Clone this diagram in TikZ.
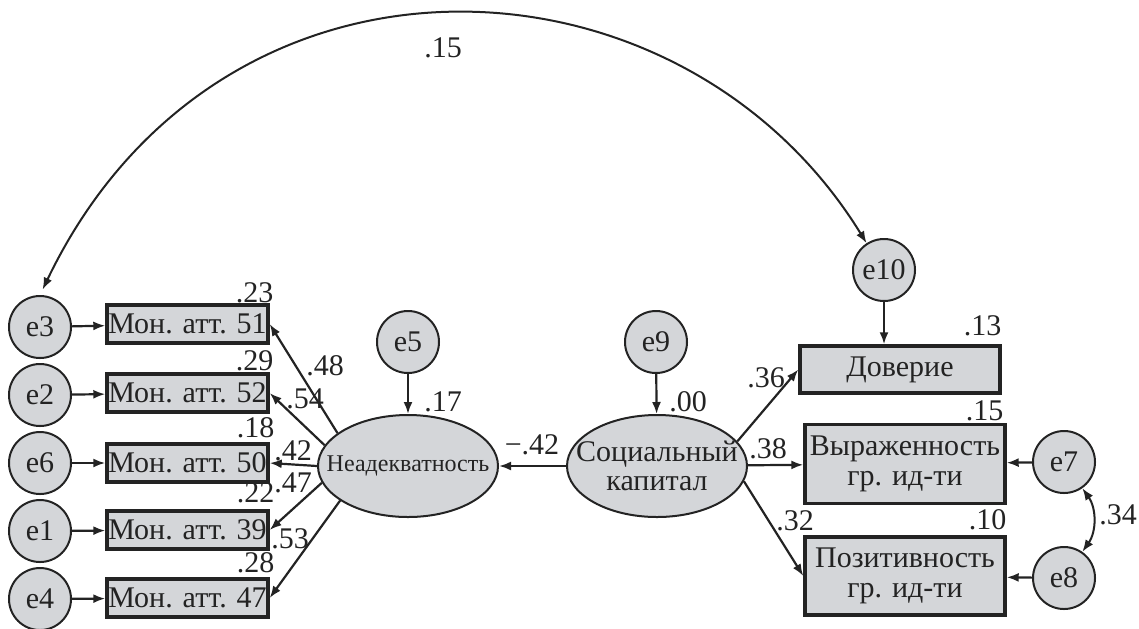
\documentclass[tikz,border=0pt]{standalone}
\usepackage{fontspec}
\setmainfont{Liberation Serif}
\usetikzlibrary{shapes.geometric,arrows.meta}
\definecolor{boxgray}{RGB}{212,214,217}
\definecolor{ink}{RGB}{35,35,35}
\tikzset{
  err/.style={circle,draw=ink,fill=boxgray,line width=1pt,minimum size=31pt,inner sep=0pt,text=ink,font=\fontsize{15}{16}\selectfont},
  obs/.style={rectangle,draw=ink,fill=boxgray,line width=1.7pt,inner sep=0pt,align=center,text=ink,font=\fontsize{15}{15}\selectfont},
  lat/.style={ellipse,draw=ink,fill=boxgray,line width=1pt,minimum width=90pt,minimum height=51pt,inner xsep=-9pt,inner ysep=0pt,align=center,text=ink},
  coef/.style={inner sep=0pt,text=ink,font=\fontsize{15}{16}\selectfont},
  arr/.style={-{Latex[length=6pt,width=4.5pt]},line width=1.1pt,draw=ink},
  arrtwo/.style={{Latex[length=6pt,width=4.5pt]}-{Latex[length=6pt,width=4.5pt]},line width=1pt,draw=ink}
}
\begin{document}
\begin{tikzpicture}[x=0.5pt,y=-0.5pt]
        \useasboundingbox (0,0) rectangle (1139,628);
        % left side
        \node[err](e3) at (40,327) {e3};
        \node[err](e2) at (40,395) {e2};
        \node[err](e6) at (40,463) {e6};
        \node[err](e1) at (40,531) {e1};
        \node[err](e4) at (40,599) {e4};
        \node[obs,minimum width=80.5pt,minimum height=19pt](m51) at (187.5,324) {Мон. атт. 51};
        \node[obs,minimum width=80.5pt,minimum height=19pt](m52) at (187.5,393) {Мон. атт. 52};
        \node[obs,minimum width=80.5pt,minimum height=19pt](m50) at (187.5,463) {Мон. атт. 50};
        \node[obs,minimum width=80.5pt,minimum height=19pt](m39) at (187.5,530) {Мон. атт. 39};
        \node[obs,minimum width=80.5pt,minimum height=19pt](m47) at (187.5,598) {Мон. атт. 47};
        % latent
        \node[err](e5) at (408,342) {e5};
        \node[err](e9) at (656,342) {e9};
        \node[lat,font=\fontsize{12}{13}\selectfont](nea) at (408,466) {Неадекватность};
        \node[lat,font=\fontsize{15}{14.5}\selectfont](soc) at (657,466) {Социальный\\капитал};
        % right side
        \node[err](e10) at (884,270) {e10};
        \node[err](e7) at (1064,462) {e7};
        \node[err](e8) at (1064,578) {e8};
        \node[obs,minimum width=100pt,minimum height=23.5pt](dov) at (900,369.5) {Доверие};
        \node[obs,minimum width=100pt,minimum height=39.5pt](vyr) at (905,464) {Выраженность\\гр. ид-ти};
        \node[obs,minimum width=100pt,minimum height=39pt](poz) at (905,576) {Позитивность\\гр. ид-ти};
        % coefficients
        \node[coef](c23) at (254.5,292.5) {.23};
        \node[coef](c29) at (254.5,361) {.29};
        \node[coef](c18) at (255.5,428) {.18};
        \node[coef](c22) at (255.5,493) {.22};
        \node[coef](c28) at (255.5,563) {.28};
        \node[coef](c48) at (325,366) {.48};
        \node[coef](c54) at (305,399) {.54};
        \node[coef](c42) at (293,451) {.42};
        \node[coef](c47) at (293,483) {.47};
        \node[coef](c53) at (290,539) {.53};
        \node[coef](c17) at (443,402) {.17};
        \node[coef](c00) at (688,402) {.00};
        \node[coef](cm42) at (532,445) {−.42};
        \node[coef](c36) at (766,378) {.36};
        \node[coef](c38) at (768,449) {.38};
        \node[coef](c32) at (795,521) {.32};
        \node[coef](c13) at (982.5,326) {.13};
        \node[coef](c15) at (984.5,411) {.15};
        \node[coef](c10) at (987.5,520) {.10};
        \node[coef](c34) at (1118,515) {.34};
        \node[coef](ctop) at (443,48) {.15};
        % connectors
        \draw[arr](e3)--(m51);
        \draw[arr](e2)--(m52);
        \draw[arr](e6)--(m50);
        \draw[arr](e1)--(m39);
        \draw[arr](e4)--(m47);
        \draw[arr](nea.155)--(m51.east);
        \draw[arr](nea.166)--(m52.east);
        \draw[arr](nea.180)--(m50.east);
        \draw[arr](nea.191)--(m39.east);
        \draw[arr](nea.207)--(m47.east);
        \draw[arr](e5)--(nea);
        \draw[arr](e9)--(soc);
        \draw[arr](soc)--(nea);
        \draw[arr](soc.17)--(dov.west);
        \draw[arr](soc)--(vyr);
        \draw[arr](soc.-10)--(poz.west);
        \draw[arr](e10.south)--(e10.south |- dov.north);
        \draw[arr](e7)--(vyr);
        \draw[arr](e8)--(poz);
        \draw[arrtwo](e7.-55) to[bend left=35] (e8.55);
        \draw[arrtwo,shorten <=3pt](e3.north) .. controls (220,-80) and (680,-60) .. (e10.123);
\end{tikzpicture}
\end{document}
